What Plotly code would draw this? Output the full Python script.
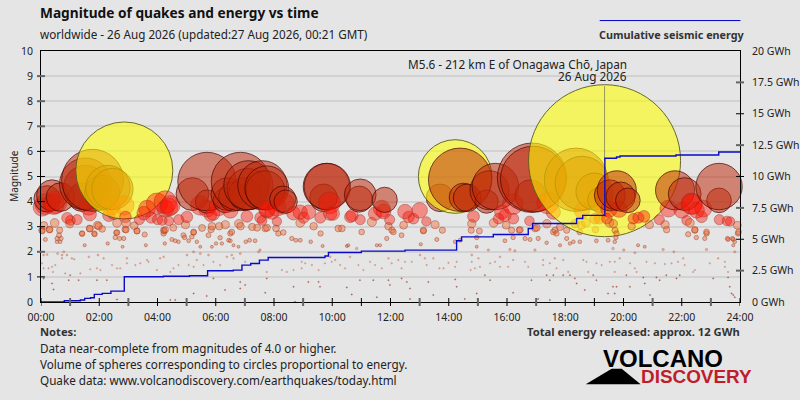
import plotly.graph_objects as go

# --- Data: (hour of day, magnitude) ---
big_quakes = [
    (1.77, 4.85), (1.53, 4.56), (1.53, 4.7), (2.1, 4.35), (2.3, 4.56), (2.45, 4.5), (2.86, 5.24),
    (5.2, 4.3), (5.7, 4.8), (5.7, 4.0), (6.4, 4.3), (6.85, 4.8), (6.6, 4.2), (7.0, 4.3), (7.1, 4.5),
    (7.12, 4.65), (7.6, 4.65), (7.75, 4.55), (7.7, 4.45), (8.3, 4.1), (8.4, 4.0),
    (9.8, 4.6), (9.83, 4.6), (9.7, 4.15), (9.9, 3.95), (10.93, 4.1), (10.96, 4.27), (11.8, 4.07),
    (14.22, 5.0), (14.39, 4.87), (13.7, 4.15), (14.5, 4.17), (14.63, 4.15), (15.4, 4.45), (15.6, 4.6),
    (16.86, 4.95), (16.9, 4.9), (16.8, 4.25), (17.4, 3.95), (15.3, 4.0), (16.2, 3.9),
    (18.37, 4.87), (18.58, 4.73), (19.0, 4.4), (19.2, 4.07), (19.35, 5.63), (19.77, 4.45),
    (19.53, 4.25), (19.9, 4.2), (20.15, 4.05), (19.85, 3.7), (19.5, 3.7),
    (21.77, 4.45), (22.1, 4.3), (23.28, 4.6), (23.28, 4.05), (22.35, 3.9),
]
medium_quakes = [
    (0.04, 3.78), (0.5, 3.98), (0.21, 4.11), (0.38, 4.25), (0.67, 4.18), (0.15, 3.9), (0.44, 3.9),
    (0.1, 3.05), (0.04, 2.83), (0.29, 2.88), (0.47, 3.15), (0.9, 3.35), (1.01, 3.25), (0.99, 3.12),
    (1.24, 3.28), (1.68, 3.49), (1.64, 3.85), (1.41, 4.18), (1.98, 3.02), (2.1, 2.91), (1.68, 2.92),
    (1.84, 2.7), (1.41, 2.72), (2.38, 3.85), (2.86, 3.85), (2.5, 3.56), (2.9, 3.39), (2.61, 3.15),
    (2.33, 3.45), (2.92, 3.15), (2.92, 2.88), (2.59, 2.76), (3.2, 3.04), (3.3, 2.83), (3.38, 3.28),
    (3.53, 3.54), (3.64, 3.72), (3.78, 3.36), (3.98, 3.92), (4.27, 3.98), (4.39, 3.78), (4.44, 3.85),
    (4.27, 3.72), (4.0, 3.28), (4.16, 3.25), (4.39, 3.23), (4.27, 2.88), (4.23, 2.83), (4.54, 2.96),
    (4.73, 3.28), (5.01, 3.39), (4.96, 3.08), (5.53, 2.95), (5.24, 2.79), (5.47, 3.85), (5.7, 3.72),
    (5.82, 3.45), (5.91, 3.52), (6.1, 3.81), (6.33, 4.05), (6.5, 3.65), (5.87, 3.02), (6.12, 3.02),
    (6.33, 3.08), (6.79, 3.12), (6.85, 3.02), (7.07, 3.41), (7.25, 2.99), (7.42, 2.96), (7.53, 3.36),
    (7.76, 3.72), (7.76, 2.96), (7.59, 3.25), (7.76, 3.65), (7.93, 3.58), (8.1, 3.21), (8.1, 3.78),
    (8.33, 3.92), (8.67, 3.54), (8.9, 3.58), (9.19, 3.58), (9.02, 3.36), (8.9, 3.15), (9.36, 3.02),
    (9.59, 3.36), (9.93, 3.52), (10.02, 3.52), (10.62, 3.39), (10.68, 3.45), (10.96, 3.28), (11.36, 3.19),
    (11.47, 3.52), (11.7, 3.72), (11.76, 3.61), (11.97, 3.28), (11.93, 3.02), (12.05, 2.86), (12.45, 3.06),
    (12.5, 3.6), (13.0, 3.65), (12.62, 3.39), (12.79, 3.32), (13.23, 3.21), (13.53, 3.08), (13.13, 2.86),
    (13.78, 2.86), (14.85, 3.41), (14.79, 3.12), (14.77, 2.86), (15.05, 2.83), (15.54, 3.15), (15.71, 3.32),
    (15.93, 3.45), (15.82, 3.58), (15.97, 3.06), (16.22, 3.32), (16.16, 2.86), (16.77, 3.23), (17.02, 2.96),
    (16.45, 2.88), (17.37, 3.12), (17.59, 3.58), (17.65, 2.86), (17.82, 2.99), (18.05, 2.86), (18.34, 3.12),
    (18.57, 3.65), (18.55, 3.06), (18.71, 3.16), (19.02, 3.32), (19.17, 3.32), (19.04, 2.88), (18.5, 2.79),
    (19.31, 3.72), (19.43, 3.32), (19.65, 3.12), (19.52, 3.15), (19.71, 2.86), (20.28, 3.02), (20.34, 3.32),
    (20.51, 3.36), (20.7, 3.41), (20.89, 3.08), (21.23, 3.28), (21.43, 3.08), (21.48, 2.88), (21.54, 3.72),
    (22.0, 3.65), (22.17, 3.25), (22.28, 3.15), (22.34, 3.92), (22.51, 3.65), (22.68, 3.39), (22.45, 2.88),
    (22.22, 2.7), (22.85, 2.79), (23.29, 3.28), (23.55, 3.23), (23.66, 3.21), (23.91, 3.06), (23.95, 2.79),
    (23.57, 2.53), (23.74, 2.53), (22.74, 3.72),
]
small_quakes = [
    (0.03, 2.86), (0.3, 2.89), (0.15, 2.49), (0.64, 2.86), (0.62, 2.66), (0.55, 2.53), (0.69, 2.53),
    (0.55, 2.4), (0.66, 2.4), (1.41, 2.73), (1.67, 2.93), (1.94, 3.06), (1.83, 2.73), (1.5, 2.26),
    (2.29, 2.33), (2.61, 2.77), (2.55, 2.57), (2.89, 2.89), (2.7, 2.53), (2.84, 2.53), (2.8, 2.2),
    (3.29, 2.83), (3.56, 2.69), (3.6, 2.26), (4.21, 2.86), (4.21, 2.73), (4.25, 2.33), (4.49, 2.49),
    (4.61, 2.44), (4.72, 2.4), (4.89, 2.66), (4.93, 2.57), (5.07, 2.44), (5.24, 2.77), (5.18, 2.6),
    (5.35, 2.4), (5.47, 2.2), (5.75, 2.66), (5.84, 2.89), (6.01, 2.33), (5.87, 2.2), (6.15, 2.56),
    (6.21, 2.33), (6.5, 2.73), (6.55, 2.79), (6.44, 2.46), (6.5, 2.44), (6.61, 2.26), (6.78, 2.2),
    (7.16, 2.46), (7.35, 2.44), (7.03, 2.4), (7.52, 2.07), (7.7, 2.93), (8.07, 2.93), (8.15, 2.73),
    (8.32, 2.77), (8.61, 2.53), (8.75, 2.46), (8.9, 2.46), (9.26, 2.4), (9.6, 2.73), (9.67, 2.23),
    (10.21, 2.93), (10.33, 2.93), (10.5, 2.23), (10.55, 2.26), (10.84, 2.13), (11.01, 2.79), (11.53, 2.26),
    (11.87, 2.53), (11.64, 2.26), (12.1, 2.79), (12.38, 2.66), (13.13, 2.83), (13.59, 2.49), (13.04, 2.3),
    (14.22, 2.4), (14.39, 2.46), (14.96, 2.57), (14.96, 2.2), (15.93, 2.44), (15.36, 2.07), (16.21, 2.57),
    (16.42, 2.86), (16.62, 2.53), (16.79, 2.49), (16.96, 2.93), (17.07, 2.53), (16.1, 2.09), (16.27, 2.04),
    (16.96, 2.07), (17.36, 2.36), (17.59, 2.79), (17.7, 2.73), (17.82, 2.26), (18.05, 2.53), (18.16, 2.33),
    (18.28, 2.4), (18.5, 2.4), (19.07, 2.44), (19.47, 2.46), (19.7, 2.4), (19.74, 2.57), (19.64, 2.13),
    (19.76, 2.73), (20.01, 2.07), (20.5, 2.26), (20.39, 1.96), (20.73, 2.2), (21.36, 2.09), (21.73, 2.0),
    (22.45, 2.86), (22.5, 2.57), (22.79, 2.53), (22.85, 2.73), (22.85, 2.09), (23.59, 2.49), (23.77, 2.49),
    (23.82, 2.4), (23.82, 2.0), (23.77, 2.26), (23.93, 2.73),
]
minor_quakes = [
    (0.09, 1.87), (0.21, 1.89), (0.03, 1.54), (0.09, 1.34), (0.26, 1.34), (0.38, 1.4), (0.41, 1.2),
    (0.49, 1.47), (0.57, 1.93), (0.72, 1.87), (0.78, 2.0), (0.72, 1.74), (0.89, 1.87), (1.06, 1.74),
    (1.14, 1.7), (0.83, 1.14), (1.0, 1.07), (1.35, 1.14), (1.64, 1.8), (1.69, 1.3), (1.92, 1.34),
    (1.96, 1.87), (2.15, 1.74), (2.04, 1.27), (2.44, 1.47), (2.61, 1.34), (2.95, 1.74), (2.95, 1.54),
    (2.72, 1.34), (3.24, 1.47), (3.41, 1.54), (3.64, 1.67), (3.69, 1.6), (4.09, 1.74), (4.21, 1.8),
    (3.98, 1.27), (4.44, 1.2), (4.55, 1.34), (4.72, 1.47), (5.01, 1.87), (5.24, 2.0), (5.35, 1.67),
    (5.47, 1.93), (5.75, 1.87), (5.07, 1.47), (5.24, 1.4), (5.58, 1.47), (5.92, 1.6), (6.38, 1.8),
    (6.15, 1.47), (6.55, 1.87), (6.84, 1.93), (7.01, 1.6), (6.61, 1.74), (7.47, 2.0), (7.75, 1.2),
    (8.27, 1.27), (8.44, 1.2), (8.67, 1.27), (8.95, 1.6), (9.07, 1.54), (8.95, 1.34), (9.3, 1.47),
    (9.53, 1.27), (9.75, 1.54), (9.93, 1.8), (9.98, 1.6), (10.1, 1.67), (10.27, 1.47), (10.44, 1.34),
    (10.61, 1.8), (10.9, 1.47), (11.07, 1.27), (11.3, 1.6), (11.47, 1.47), (11.7, 1.34), (11.93, 1.74),
    (12.04, 1.54), (12.27, 1.67), (12.38, 1.34), (12.5, 1.6), (12.73, 1.6), (13.01, 1.87), (13.18, 1.74),
    (13.47, 1.74), (13.24, 1.47), (13.68, 1.34), (13.82, 1.34), (13.99, 1.56), (14.27, 1.6), (14.22, 1.4),
    (14.79, 1.87), (14.79, 1.6), (15.02, 1.74), (14.75, 1.27), (14.9, 1.34), (15.07, 1.4), (15.42, 1.54),
    (15.59, 1.6), (15.76, 1.8), (15.76, 1.4), (16.04, 1.4), (16.21, 1.67), (16.62, 1.6), (16.73, 1.4),
    (17.24, 1.67), (17.24, 1.47), (17.47, 1.54), (17.64, 1.74), (17.7, 1.34), (17.93, 1.67), (18.1, 1.2),
    (18.62, 1.67), (18.73, 1.6), (18.79, 1.2), (19.07, 1.54), (19.25, 1.47), (19.53, 1.6), (19.7, 1.6),
    (19.87, 1.74), (19.7, 1.2), (20.22, 1.54), (20.39, 1.34), (20.45, 1.2), (20.79, 1.6), (21.08, 1.54),
    (21.42, 1.51), (21.65, 1.54), (21.87, 1.6), (22.05, 1.74), (22.1, 1.47), (22.45, 1.27), (22.39, 1.2),
    (22.96, 1.54), (23.25, 1.74), (23.48, 1.6), (23.48, 1.4), (23.59, 1.2),
]
tiny_quakes = [
    (0.38, 0.74), (0.43, 0.5), (1.29, 0.87), (0.95, 0.87), (0.09, 0.94), (1.92, 0.87), (2.26, 0.87),
    (2.61, 0.1), (5.24, 0.34), (5.69, 0.24), (4.44, 0.08), (4.61, 0.08), (6.32, 0.48), (5.92, 0.94),
    (6.84, 0.8), (7.01, 0.68), (6.84, 0.54), (7.7, 0.37), (7.75, 0.94), (8.72, 0.01), (8.67, 0.61),
    (9.18, 0.8), (9.53, 0.8), (9.58, 0.61), (10.5, 0.58), (10.67, 0.3), (10.95, 0.87), (11.41, 0.87),
    (11.53, 0.19), (11.98, 0.68), (11.93, 0.87), (12.38, 0.94), (12.56, 0.8), (12.67, 0.54), (12.67, 0.12),
    (13.3, 0.8), (13.47, 0.28), (14.22, 0.9), (14.27, 0.61), (14.55, 0.12), (14.96, 0.34), (15.24, 1.07),
    (15.42, 0.87), (16.21, 0.37), (16.84, 0.87), (17.07, 0.12), (17.36, 1.07), (17.47, 0.87), (17.59, 1.07),
    (17.47, 0.08), (17.93, 1.07), (18.16, 1.07), (18.33, 0.94), (18.39, 0.74), (18.67, 0.48), (18.96, 1.07),
    (19.07, 0.87), (19.47, 0.34), (19.7, 0.34), (19.64, 0.61), (19.76, 0.61), (20.1, 1.07), (20.22, 0.61),
    (20.68, 0.98), (20.73, 0.74), (20.91, 0.28), (21.13, 0.98), (21.24, 0.87), (21.47, 1.07), (21.82, 0.94),
    (21.93, 1.07), (23.08, 0.94), (23.59, 0.98), (23.65, 0.61), (23.71, 0.34), (23.77, 0.28), (23.82, 0.19),
]

# cumulative energy in GWh, stepped
energy_hours = [0, 0.8, 1.35, 1.5, 1.7, 1.83, 2.1, 2.4, 2.86, 4.2, 5.1, 5.72, 6.6, 6.9, 7.2, 7.5, 7.8, 9.75, 9.87,
                11.0, 12.5, 14.27, 14.44, 15.53, 16.73, 16.88, 18.39, 18.6, 19.36, 19.76, 19.88, 21.8, 23.27, 24]
energy_gwh = [0, 0.1, 0.16, 0.29, 0.34, 0.61, 0.69, 0.87, 2.01, 2.05, 2.09, 2.49, 2.54, 2.94, 3.07, 3.34, 3.55, 3.66,
              3.95, 4.05, 4.13, 4.88, 5.19, 5.38, 5.86, 6.25, 6.65, 6.9, 11.45, 11.55, 11.63, 11.71, 11.95, 11.95]

hour_ticks = list(range(0, 25, 2))
hour_labels = ["00:00", "02:00", "04:00", "06:00", "08:00", "10:00", "12:00", "14:00", "16:00", "18:00", "20:00",
               "22:00", "24:00"]
energy_ticks = [0, 2.5, 5, 7.5, 10, 12.5, 15, 17.5, 20]
energy_labels = ["0 GWh", "2.5 GWh", "5 GWh", "7.5 GWh", "10 GWh", "12.5 GWh", "15 GWh", "17.5 GWh", "20 GWh"]

main_quake_hour = 19.35
main_quake_mag = [5.63, 8.6]

FONT = "Noto Sans"
BG = "#e5e5e5"

# plot area in the 800x400 picture
LEFT, RIGHT, TOP, BOTTOM = 40.5, 740.5, 50.5, 302


def px(x):
    return (x - LEFT) / (RIGHT - LEFT)


def py(y):
    return (BOTTOM - y) / (BOTTOM - TOP)


def bubble_size(m):
    # volume of the sphere follows energy, so diameter goes with 10^(M/2)
    return max(1.5, 2 * 76 * 10 ** (0.5 * (m - 5.63)))


def bubble_fill(m):
    if m >= 5:
        return "rgba(255,255,0,0.58)"
    if m >= 4:
        return "rgba(190,40,10,0.52)"
    if m >= 3.2:
        return "rgba(255,15,0,0.42)"
    if m >= 1.1:
        return "rgba(240,100,40,0.42)"
    return "rgba(150,40,20,0.6)"


def bubble_edge(m):
    if m >= 5:
        return "rgba(90,90,30,0.9)"
    if m >= 4:
        return "rgba(60,0,0,0.65)"
    return "rgba(140,50,30,0.4)"


# drawn in time order: later quakes sit on top of earlier ones
quakes = sorted(big_quakes + medium_quakes + small_quakes + minor_quakes + tiny_quakes)
hours = [q[0] for q in quakes]
mags = [q[1] for q in quakes]

fig = go.Figure()
fig.add_trace(go.Scatter(
    x=hours, y=mags, mode="markers", yaxis="y", cliponaxis=False,
    marker=dict(
        size=[bubble_size(m) for m in mags],
        opacity=1,  # bubble traces default to 0.7
        color=[bubble_fill(m) for m in mags],
        line=dict(color=[bubble_edge(m) for m in mags], width=[1 if m >= 2.2 else 0.5 for m in mags]),
    ),
))
fig.add_trace(go.Scatter(
    x=[main_quake_hour, main_quake_hour], y=main_quake_mag, mode="lines",
    line=dict(color="rgba(90,90,90,0.6)", width=1),
))
fig.add_trace(go.Scatter(
    x=energy_hours, y=energy_gwh, mode="lines", yaxis="y2",
    line=dict(color="#0a0ac8", width=1.4, shape="hv"),
))

fig.update_layout(
    width=800, height=400, autosize=False,
    margin=dict(l=LEFT, r=800 - RIGHT, t=TOP, b=400 - BOTTOM, pad=0),
    paper_bgcolor=BG, plot_bgcolor=BG, showlegend=False,
    font=dict(family=FONT, size=10.5, color="#222222"),
    xaxis=dict(
        range=[0, 24], tickvals=hour_ticks, ticktext=hour_labels, tickangle=0, automargin=False,
        showgrid=False, zeroline=False, showline=True, mirror=True, linecolor="black", linewidth=1,
        ticks="outside", ticklen=5, tickcolor="rgba(0,0,0,0)",
    ),
    yaxis=dict(
        range=[0, 10], dtick=1, showgrid=True, gridcolor="#d2d2d2", gridwidth=1.5, zeroline=False, automargin=False,
        showline=True, linecolor="black", linewidth=1,
        ticks="outside", ticklen=5, tickcolor="rgba(0,0,0,0)",
    ),
    yaxis2=dict(
        range=[0, 20], overlaying="y", side="right", tickvals=energy_ticks, ticktext=energy_labels, automargin=False,
        showgrid=False, zeroline=False, showline=True, linecolor="black", linewidth=1,
        ticks="outside", ticklen=9, tickcolor="rgba(0,0,0,0)",
    ),
)

# ticks straddle the axes and the original renders every other one thicker and grey
for h in range(25):
    soft = h % 2 == 1 and h not in (11, 19)
    fig.add_shape(type="line", xref="x", yref="paper", ysizemode="pixel", yanchor=0, x0=h, x1=h, y0=-4, y1=4,
                  line=dict(color="#666666" if soft else "black", width=2 if soft else 1))
for m in range(1, 10):
    soft = m in (2, 7, 8, 9)
    fig.add_shape(type="line", xref="paper", yref="y", xsizemode="pixel", xanchor=0, y0=m, y1=m, x0=-4, x1=4,
                  line=dict(color="#666666" if soft else "black", width=2 if soft else 1))
for g in energy_ticks[1:-1]:
    soft = g in (2.5, 7.5, 12.5, 17.5)
    fig.add_shape(type="line", xref="paper", yref="y2", xsizemode="pixel", xanchor=1, y0=g, y1=g, x0=-4, x1=4,
                  line=dict(color="#666666" if soft else "black", width=2 if soft else 1))

# legend line and logo mountain
fig.add_shape(type="line", xref="paper", yref="paper", x0=px(600), x1=px(741), y0=py(20), y1=py(20),
              line=dict(color="#0000c8", width=1))
fig.add_shape(type="path", xref="paper", yref="paper", fillcolor="black", line=dict(width=0),
              path=f"M {px(586)} {py(384.5)} L {px(612)} {py(369)} L {px(622)} {py(369)} L {px(641)} {py(384.5)} Z")


def label(x, y, text, size=11, anchor="left", bold=False, color="#222222", family=FONT, angle=0):
    if bold:
        text = f"<b>{text}</b>"
    # annotations carry about 3px of padding
    x = x - 3 if anchor == "left" else x + 3 if anchor == "right" else x
    fig.add_annotation(xref="paper", yref="paper", x=px(x), y=py(y), text=text, showarrow=False, xanchor=anchor,
                       yanchor="middle", textangle=angle, font=dict(size=size, color=color, family=family))


label(40, 12, "Magnitude of quakes and energy vs time", size=13.7, bold=True, color="#111111")
label(40, 33.5, "worldwide - 26 Aug 2026 (updated:27 Aug 2026, 00:21 GMT)", size=11.7)
label(745, 33.5, "Cumulative seismic energy", size=10.8, anchor="right", bold=True, color="#333333")
label(14, 176, "Magnitude", size=10, anchor="center", angle=-90)
label(626, 64, "M5.6 - 212 km E of Onagawa Chō, Japan", size=11.75, anchor="right")
label(626, 76, "26 Aug 2026", size=11.75, anchor="right")
label(40, 332, "Notes:", size=11.2, bold=True, color="#333333")
label(40, 348, "Data near-complete from magnitudes of 4.0 or higher.", size=11.7)
label(40, 364, "Volume of spheres corresponding to circles proportional to energy.", size=11.7)
label(40, 380, "Quake data: www.volcanodiscovery.com/earthquakes/today.html", size=11.7)
label(740, 332, "Total energy released: approx. 12 GWh", size=11.2, anchor="right", bold=True, color="#333333")
label(604, 359, "VOLCANO", size=24, bold=True, color="black", family="Liberation Sans")
label(642, 377, "DISCOVERY", size=18.9, bold=True, color="#c01c2c", family="Liberation Sans")

fig.write_html("out.html", config=dict(displayModeBar=False), post_script="document.body.style.margin='0';")
